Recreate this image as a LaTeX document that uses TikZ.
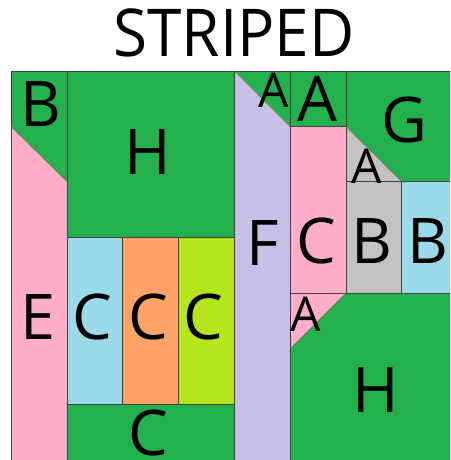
\documentclass[tikz,border=0pt]{standalone}
\usepackage{fontspec}
\setmainfont{Open Sans}
\definecolor{pgreen}{HTML}{22B14C}
\definecolor{ppink}{HTML}{FFAEC9}
\definecolor{pblue}{HTML}{99D9EA}
\definecolor{porange}{HTML}{FFA466}
\definecolor{plime}{HTML}{B5E61D}
\definecolor{plav}{HTML}{C8BFE7}
\definecolor{pgray}{HTML}{C3C3C3}
\definecolor{pline}{HTML}{404040}
\definecolor{pdiag}{HTML}{7A7040}
\begin{document}
\begin{tikzpicture}[x=1pt,y=-1pt,
  region/.style={draw=pline,line width=0.9pt},
  diag/.style={draw=pdiag,line width=0.6pt},
  big/.style={font=\fontsize{63}{63}\selectfont,inner sep=0pt,anchor=center},
  small/.style={font=\fontsize{48}{48}\selectfont,inner sep=0pt,anchor=center}]
\useasboundingbox (0,0) rectangle (450,460);
\clip (0,0) rectangle (450,460);
\fill[white] (0,0) rectangle (450,460);
% grid
\def\cA{11}\def\cB{67}\def\cC{122.5}\def\cD{178.5}\def\cE{234.5}\def\cF{290}\def\cG{346}\def\cH{401.5}\def\cI{457.5}
\def\rA{71}\def\rB{126.5}\def\rC{181.5}\def\rD{237.5}\def\rE{293}\def\rF{349}\def\rG{404.5}\def\rH{460}
% fills
\fill[pgreen] (\cA,\rA) -- (\cB,\rA) -- (\cB,\rC) -- (\cA,\rB) -- cycle;
\fill[ppink] (\cA,\rB) -- (\cB,\rC) -- (\cB,\rH) -- (\cA,\rH) -- cycle;
\fill[pgreen] (\cB,\rA) rectangle (\cE,\rD);
\fill[pblue] (\cB,\rD) rectangle (\cC,\rG);
\fill[porange] (\cC,\rD) rectangle (\cD,\rG);
\fill[plime] (\cD,\rD) rectangle (\cE,\rG);
\fill[pgreen] (\cB,\rG) rectangle (\cE,\rH);
\fill[plav] (\cE,\rA) -- (\cF,\rB) -- (\cF,\rH) -- (\cE,\rH) -- cycle;
\fill[pgreen] (\cE,\rA) -- (\cF,\rA) -- (\cF,\rB) -- cycle;
\fill[pgreen] (\cF,\rA) rectangle (\cG,\rB);
\fill[pgreen] (\cG,\rA) -- (\cI,\rA) -- (\cI,\rC) -- (\cH,\rC) -- (\cG,\rB) -- cycle;
\fill[pgray] (\cG,\rB) -- (\cH,\rC) -- (\cG,\rC) -- cycle;
\fill[ppink] (\cF,\rB) rectangle (\cG,\rE);
\fill[pgray] (\cG,\rC) rectangle (\cH,\rE);
\fill[pblue] (\cH,\rC) rectangle (\cI,\rE);
\fill[ppink] (\cF,\rE) -- (\cG,\rE) -- (\cF,\rF) -- cycle;
\fill[pgreen] (\cG,\rE) -- (\cI,\rE) -- (\cI,\rH) -- (\cF,\rH) -- (\cF,\rF) -- cycle;
% straight lines
\draw[region] (\cA,\rH) -- (\cA,\rA) -- (\cI,\rA);
\draw[region] (\cB,\rA) -- (\cB,\rH);
\draw[region] (\cB,\rD) -- (\cE,\rD);
\draw[region] (\cB,\rG) -- (\cE,\rG);
\draw[region] (\cC,\rD) -- (\cC,\rG);
\draw[region] (\cD,\rD) -- (\cD,\rG);
\draw[region] (\cE,\rA) -- (\cE,\rH);
\draw[region] (\cF,\rA) -- (\cF,\rH);
\draw[region] (\cF,\rB) -- (\cG,\rB);
\draw[region] (\cG,\rA) -- (\cG,\rB);
\draw[region] (\cG,\rB) -- (\cG,\rE);
\draw[region] (\cG,\rC) -- (\cI,\rC);
\draw[region] (\cH,\rC) -- (\cH,\rE);
\draw[region] (\cF,\rE) -- (\cI,\rE);
% diagonals
\draw[diag] (\cA,\rB) -- (\cB,\rC);
\draw[diag] (\cE,\rA) -- (\cF,\rB);
\draw[diag] (\cG,\rB) -- (\cH,\rC);
\draw[diag] (\cG,\rE) -- (\cF,\rF);
% labels
\node[font=\fontsize{66}{66}\selectfont,inner sep=0pt] (title) at (234,33) {\scalebox{0.94}[1]{STRIPED}};
\node[big] (lB1) at (41,104) {B};
\node[big] (lE) at (38,317) {E};
\node[big] (lH1) at (148,152) {H};
\node[big] (lC1) at (92,317) {C};
\node[big] (lC2) at (148,317) {C};
\node[big] (lC3) at (203,317) {C};
\node[big] (lC4) at (148,433) {C};
\node[big] (lF) at (263,243) {F};
\node[small] (lA1) at (274,90) {A};
\node[big] (lA2) at (317,99) {A};
\node[big] (lG) at (404,120) {G};
\node[small] (lA3) at (367,166) {A};
\node[big] (lC5) at (316,241) {C};
\node[big] (lB2) at (372,241) {B};
\node[big] (lB3) at (428,241) {B};
\node[small] (lA4) at (306,314) {A};
\node[big] (lH2) at (376,390) {H};
\end{tikzpicture}
\end{document}
